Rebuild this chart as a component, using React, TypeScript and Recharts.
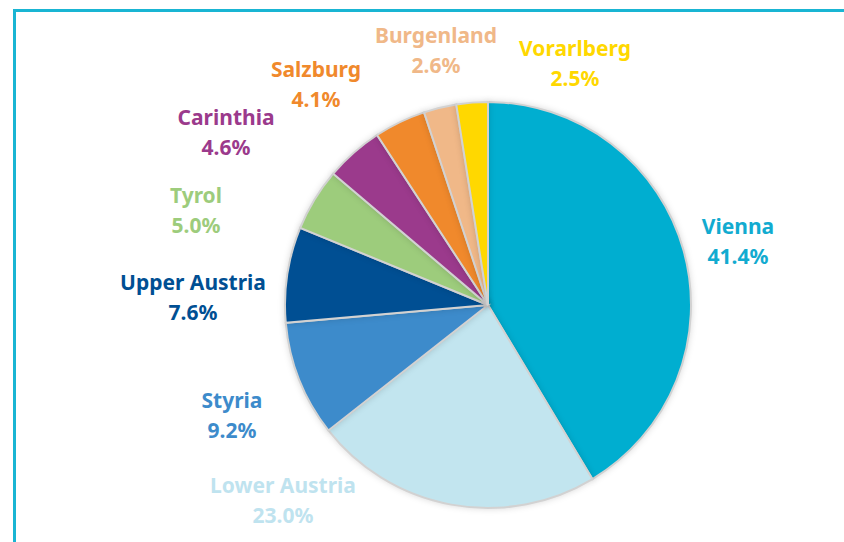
import React from 'react';
import { Cell, Pie, PieChart } from 'recharts';

const regions = ['Vienna', 'Lower Austria', 'Styria', 'Upper Austria', 'Tyrol', 'Carinthia', 'Salzburg', 'Burgenland', 'Vorarlberg'];
const shares = [41.4, 23.0, 9.2, 7.6, 5.0, 4.6, 4.1, 2.6, 2.5];
const colors = ['#00aed0', '#c2e5ef', '#3d8bcb', '#004f93', '#9dcc7c', '#9b3a8c', '#f0892c', '#f0b888', '#ffd800'];
const labelColors = ['#12abd0', '#bfe3ef', '#3d8bcb', '#004f93', '#9dcc7c', '#9b3a8c', '#f0892c', '#f0b888', '#ffd800'];

// where each label sits (center of the two-line block)
const labelAnchors: [number, number][] = [
  [738, 241],
  [283, 500],
  [232, 415],
  [193, 297],
  [196, 210],
  [226, 132],
  [316, 84],
  [436, 50],
  [575, 63],
];

const data = regions.map((name, i) => ({ name, value: shares[i] }));

const renderLabel = (props: any) => {
  const i = props.index;
  const [x, y] = labelAnchors[i];
  return (
    <text
      x={x}
      y={y}
      textAnchor="middle"
      fill={labelColors[i]}
      fontFamily="'Noto Sans', sans-serif"
      fontWeight={700}
      fontSize={21}
    >
      <tspan x={x} dy={-7}>{regions[i]}</tspan>
      <tspan x={x} dy={30}>{shares[i].toFixed(1)}%</tspan>
    </text>
  );
};

export default function App() {
  return (
    <div style={{ position: 'absolute', left: 0, top: 0, width: 844, height: 542, overflow: 'hidden', background: '#fff' }}>
      <div
        style={{
          position: 'absolute',
          left: 13,
          top: 9,
          width: 900,
          height: 600,
          borderTop: '3px solid #19b5d3',
          borderLeft: '3px solid #19b5d3',
        }}
      />
      <PieChart width={844} height={542} margin={{ top: 0, right: 0, bottom: 0, left: 0 }} style={{ position: 'absolute', left: 0, top: 0 }}>
        <Pie
          data={data}
          dataKey="value"
          nameKey="name"
          cx={488}
          cy={305}
          outerRadius={203}
          startAngle={90}
          endAngle={-270}
          stroke="#d2d2d2"
          strokeWidth={2}
          label={renderLabel}
          labelLine={false}
          isAnimationActive={false}
          style={{ filter: 'drop-shadow(0 0 3px rgba(0,0,0,0.15))' }}
        >
          {data.map((d, i) => (
            <Cell key={d.name} fill={colors[i]} />
          ))}
        </Pie>
      </PieChart>
    </div>
  );
}
